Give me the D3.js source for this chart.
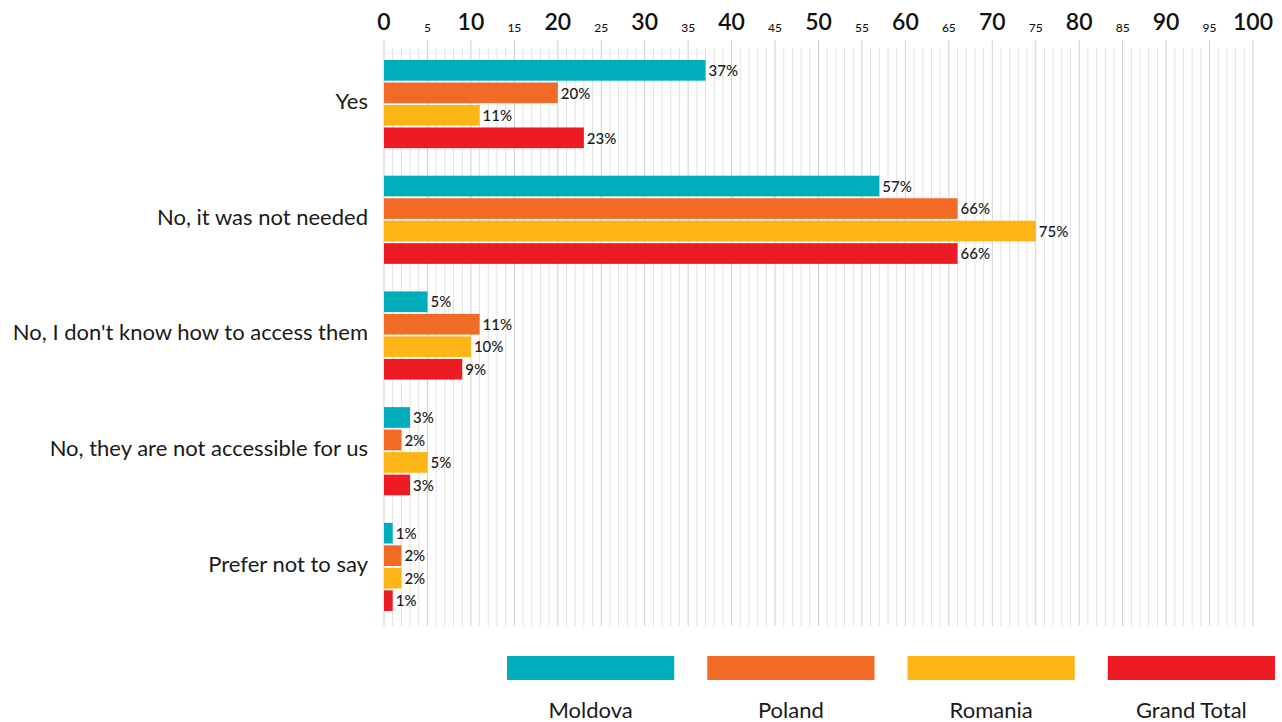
<!DOCTYPE html>
<html>
<head>
<meta charset="utf-8">
<script src="https://cdn.jsdelivr.net/npm/d3@7"></script>
<style>
  body { margin: 0; background: #fff; }
  svg { font-family: Lato, "Open Sans", sans-serif; }
</style>
</head>
<body>
<svg width="1282" height="722"></svg>
<script>
// Data
const categories = ["Yes", "No, it was not needed", "No, I don't know how to access them",
    "No, they are not accessible for us", "Prefer not to say"];
const series = ["Moldova", "Poland", "Romania", "Grand Total"];
const moldova = [37, 57, 5, 3, 1];
const poland = [20, 66, 11, 2, 2];
const romania = [11, 75, 10, 5, 2];
const grandTotal = [23, 66, 9, 3, 1];
const colors = ["#00AEBB", "#F26B26", "#FDB515", "#ED1C24"];

const values = [moldova, poland, romania, grandTotal];

const svg = d3.select("svg");

// Scales
const x = d3.scaleLinear().domain([0, 100]).range([384, 1253]);
const y = d3.scaleBand().domain(categories).range([60, 611]).paddingInner(0.238);
const ySub = d3.scaleBand().domain(series).range([0, y.bandwidth()]).paddingInner(0.08);
const color = d3.scaleOrdinal().domain(series).range(colors);

// Gridlines: every 1 unit, darker every 5
const grid = svg.append("g");
grid.selectAll("line")
    .data(d3.range(0, 101))
    .join("line")
    .attr("x1", d => x(d)).attr("x2", d => x(d))
    .attr("y1", d => d % 5 === 0 ? 40 : 48)
    .attr("y2", 626)
    .attr("stroke", d => d % 5 === 0 ? "#cfcfcf" : "#e2e2e2")
    .attr("stroke-width", 1);

// Top axis labels
const ticks = svg.append("g");
ticks.selectAll("text")
    .data(d3.range(0, 101, 5))
    .join("text")
    .attr("x", d => x(d))
    .attr("y", d => d % 10 === 0 ? 30 : 32)
    .attr("text-anchor", "middle")
    .attr("font-size", d => d % 10 === 0 ? 23 : 12)
    .attr("font-weight", d => d % 10 === 0 ? 600 : 500)
    .attr("fill", "#111")
    .text(d => d);

// Bars
const groups = svg.append("g")
    .selectAll("g")
    .data(categories)
    .join("g")
    .attr("transform", d => `translate(0,${y(d)})`);

groups.selectAll("rect")
    .data((d, i) => series.map((s, j) => ({ s, v: values[j][i] })))
    .join("rect")
    .attr("x", x(0))
    .attr("y", d => ySub(d.s))
    .attr("width", d => x(d.v) - x(0))
    .attr("height", ySub.bandwidth())
    .attr("fill", d => color(d.s));

groups.selectAll("text.val")
    .data((d, i) => series.map((s, j) => ({ s, v: values[j][i] })))
    .join("text")
    .attr("class", "val")
    .attr("x", d => x(d.v) + 3)
    .attr("y", d => ySub(d.s) + ySub.bandwidth() / 2)
    .attr("dy", "0.38em")
    .attr("font-size", 15)
    .attr("font-weight", 500)
    .attr("fill", "#1a1a1a")
    .text(d => d.v + "%");

// Category labels
svg.append("g")
    .selectAll("text")
    .data(categories)
    .join("text")
    .attr("x", 368)
    .attr("y", d => y(d) + y.bandwidth() / 2 - 3)
    .attr("dy", "0.36em")
    .attr("text-anchor", "end")
    .attr("font-size", 22)
    .attr("fill", "#1a1a1a")
    .text(d => d);

// Legend
const legendX = d3.scaleBand().domain(series).range([507, 1275]).paddingInner(0.165);
const legend = svg.append("g")
    .selectAll("g")
    .data(series)
    .join("g")
    .attr("transform", d => `translate(${legendX(d)},0)`);

legend.append("rect")
    .attr("y", 656)
    .attr("width", legendX.bandwidth())
    .attr("height", 24)
    .attr("fill", d => color(d));

legend.append("text")
    .attr("x", legendX.bandwidth() / 2)
    .attr("y", 718)
    .attr("text-anchor", "middle")
    .attr("font-size", 22)
    .attr("fill", "#1a1a1a")
    .text(d => d);
</script>
</body>
</html>
